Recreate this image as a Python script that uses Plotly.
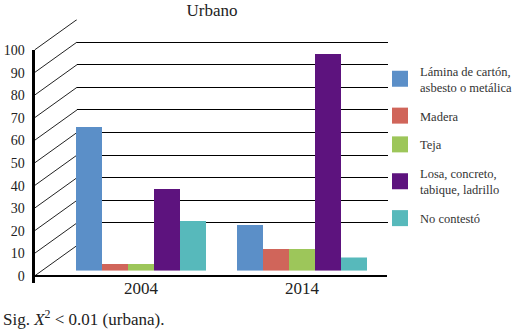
import plotly.graph_objects as go

# ---------------- data ----------------
years = ["2004", "2014"]
series_names = [
    "Lámina de cartón,<br>asbesto o metálica",
    "Madera",
    "Teja",
    "Losa, concreto,<br>tabique, ladrillo",
    "No contestó",
]
lamina = [63.6, 20.2]
madera = [3.0, 9.6]
teja = [3.0, 9.6]
losa = [36.2, 95.9]
no_contesto = [22.0, 5.8]
y_ticks = [0, 10, 20, 30, 40, 50, 60, 70, 80, 90, 100]
title_text = "Urbano"
note_text = "Sig. <i>X</i><sup>2</sup> &lt; 0.01 (urbana)."

values = [lamina, madera, teja, losa, no_contesto]
colors = ["#5b8fc8", "#d0655a", "#9dc65a", "#5d137e", "#57b9bb"]

# ---------------- geometry (pixels) ----------------
W, H = 515, 331
S = 2.26            # px per unit
FRONT_X = 34.5
FRONT0 = 276.0
BACK_X0, BACK_X1 = 77.0, 388.0
BACK0 = 245.5
BAR0 = 270.7
BAR_X0, BAR_X1 = 60.5, 382.5
FLOOR_X1 = 387.0
VMAX = 100


def pxp(px):
    return px / W


def pyp(py):
    return 1 - py / H


FONT = "Liberation Serif"
fig = go.Figure()

# back wall (gridlines)
fig.add_trace(go.Scatter(x=[None], y=[None], xaxis="x", yaxis="y",
                         showlegend=False, hoverinfo="skip"))
# side diagonals
shift = (FRONT0 - BACK0) / S
dx, dy = [], []
for v in y_ticks:
    dx += [0, 1, None]
    dy += [v, v + shift, None]
fig.add_trace(go.Scatter(x=dx, y=dy, xaxis="x2", yaxis="y2", mode="lines",
                         line=dict(color="#222", width=1), showlegend=False,
                         hoverinfo="skip"))
# front axis
fig.add_trace(go.Scatter(x=[None], y=[None], xaxis="x3", yaxis="y3",
                         showlegend=False, hoverinfo="skip"))
# bars
for name, vals, col in zip(series_names, values, colors):
    fig.add_trace(go.Bar(x=years, y=vals, name=name, marker_color=col,
                         marker_line_width=0, xaxis="x4", yaxis="y4",
                         showlegend=False))
# legend entries
for name, col in zip(series_names, colors):
    fig.add_trace(go.Scatter(x=[None], y=[None], name=name, mode="markers",
                             marker=dict(symbol="square", size=16, color=col),
                             xaxis="x4", yaxis="y4", legendgroup=name))

back_top = BACK0 - VMAX * S
side_range_top = (FRONT0 - back_top) / S
front_ext = 3.0

fig.update_layout(
    template="none",
    width=W, height=H,
    margin=dict(l=0, r=0, t=0, b=0, autoexpand=False),
    paper_bgcolor="white", plot_bgcolor="rgba(0,0,0,0)",
    font=dict(family=FONT, color="#222"),
    barmode="group", bargap=0.1925, bargroupgap=0,
    title=dict(text=title_text, x=212 / W, xanchor="center",
               y=pyp(10), yanchor="middle",
               font=dict(family=FONT, size=17, color="#222")),
    xaxis=dict(domain=[pxp(BACK_X0), pxp(BACK_X1)], range=[0, 1],
               visible=False, anchor="y", automargin=False),
    yaxis=dict(domain=[pyp(BACK0), pyp(back_top)], range=[0, VMAX],
               tickvals=y_ticks, showticklabels=False, ticks="",
               showgrid=True, gridcolor="black", gridwidth=1.3,
               zeroline=False, showline=False, anchor="x", automargin=False),
    xaxis2=dict(domain=[pxp(FRONT_X), pxp(BACK_X0)], range=[0, 1],
                visible=False, anchor="y2", automargin=False),
    yaxis2=dict(domain=[pyp(FRONT0), pyp(back_top)], range=[0, side_range_top],
                visible=False, anchor="x2", automargin=False),
    xaxis3=dict(domain=[pxp(FRONT_X), pxp(FLOOR_X1)], range=[0, 1],
                showline=True, linecolor="black", linewidth=2,
                showgrid=False, zeroline=False, ticks="",
                showticklabels=False, anchor="free", position=pyp(FRONT0),
                automargin=False),
    yaxis3=dict(domain=[pyp(FRONT0 + front_ext * S), pyp(FRONT0 - VMAX * S)],
                range=[-front_ext, VMAX], tickvals=y_ticks,
                showline=True, linecolor="black", linewidth=3,
                showgrid=False, zeroline=False, ticks="",
                ticklabelstandoff=4,
                tickfont=dict(family=FONT, size=14, color="#222"),
                anchor="x3", automargin=False),
    xaxis4=dict(domain=[pxp(BAR_X0), pxp(BAR_X1)], type="category",
                range=[-0.5, 1.5], showline=False, showgrid=False,
                zeroline=False, ticks="", ticklabelstandoff=0,
                tickfont=dict(family=FONT, size=17, color="#222"),
                anchor="free", position=pyp(FRONT0), automargin=False),
    yaxis4=dict(domain=[pyp(BAR0), pyp(BAR0 - VMAX * S)], range=[0, VMAX],
                visible=False, anchor="x4", automargin=False),
    legend=dict(x=pxp(380), xanchor="left", y=pyp(56), yanchor="top",
                font=dict(family=FONT, size=12.5, color="#333"),
                bgcolor="rgba(0,0,0,0)", valign="middle",
                traceorder="grouped", tracegroupgap=9.5),
    annotations=[dict(text=note_text, x=pxp(1), xanchor="left",
                      y=pyp(318), yanchor="middle", xref="paper", yref="paper",
                      showarrow=False,
                      font=dict(family=FONT, size=17, color="#222"))],
)

fig.write_html("out.html", config={"displayModeBar": False},
               post_script="document.body.style.margin='0';")
